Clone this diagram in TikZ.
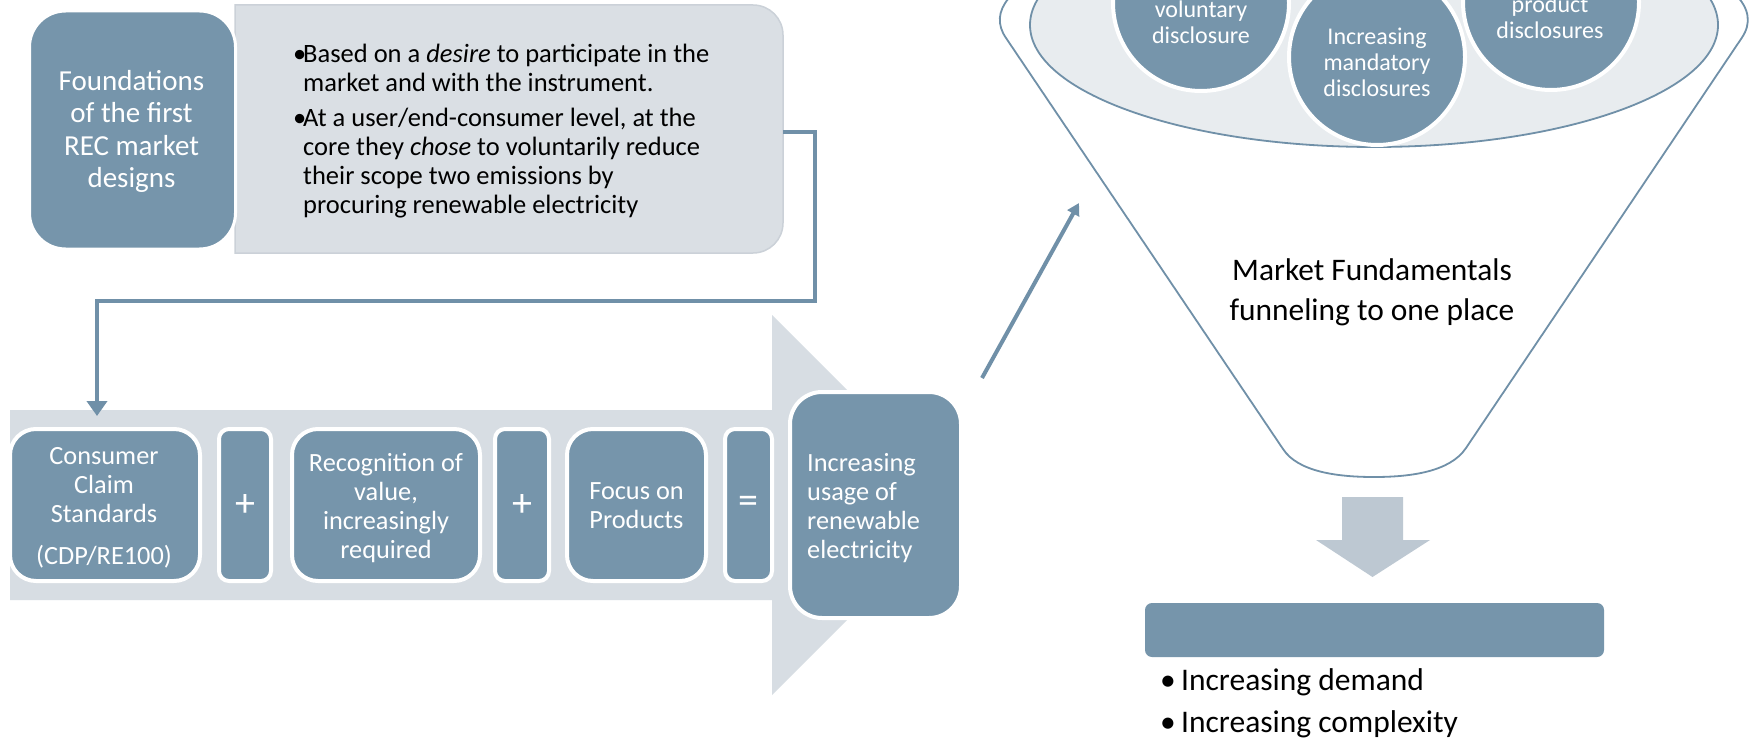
\documentclass[tikz,border=0pt]{standalone}
\usepackage{fontspec}
\setmainfont{Carlito}
\usetikzlibrary{arrows.meta,calc}
\definecolor{dkb}{HTML}{7695AB}
\definecolor{lgt}{HTML}{D7DDE3}
\definecolor{lgtbox}{HTML}{DADFE4}
\definecolor{lgtedge}{HTML}{CBD1D8}
\definecolor{rim}{HTML}{E8ECEF}
\definecolor{lnc}{HTML}{7090A8}
\definecolor{darr}{HTML}{BDC8D2}
\begin{document}
\begin{tikzpicture}[x=1pt,y=1pt,
  dkbox/.style={draw=white, line width=4pt, fill=dkb, text=white, inner sep=0pt, align=center},
  boxtext/.style={text=white, inner sep=0pt, align=center, font=\fontsize{26.3}{29}\selectfont},
  opfont/.style={font=\fontsize{40}{40}\selectfont},
  disc/.style={draw=white, line width=4pt, fill=dkb},
  disctext/.style={text=white, align=center, inner sep=0pt, font=\fontsize{24}{26}\selectfont},
  conn/.style={draw=lnc, line width=4pt, -{Triangle[width=20pt,length=15pt]}},
  diag/.style={draw=lnc, line width=4pt, -{Triangle[width=13pt,length=12pt]}},
  funnel/.style={draw=lnc, line width=1.8pt, fill=white, line join=round},
  blacktext/.style={text=black, inner sep=0pt, font=\fontsize{31.4}{40}\selectfont}
]
\useasboundingbox (0,0) rectangle (1750,-741);
\fill[white] (0,0) rectangle (1750,-741);

% top light box with bullets
\filldraw[fill=lgtbox, draw=lgtedge, line width=1.5pt]
  (235,-5) -- (753,-5) arc[start angle=90,end angle=0,radius=30pt]
  -- (783,-223) arc[start angle=0,end angle=-90,radius=30pt] -- (235,-253) -- cycle;
\coordinate (lbxR) at (783,-132);
\node[anchor=north west, inner sep=0pt, align=left, text=black,
      font=\fontsize{26.5}{29}\selectfont] (bul) at (293,-42)
  {\strut\makebox[10pt][l]{•}Based on a \textit{desire} to participate in the\\
   \strut\hspace*{10pt}market and with the instrument.\\[6pt]
   \strut\makebox[10pt][l]{•}At a user/end-consumer level, at the\\
   \strut\hspace*{10pt}core they \textit{chose} to voluntarily reduce\\
   \strut\hspace*{10pt}their scope two emissions by\\
   \strut\hspace*{10pt}procuring renewable electricity};

% Foundations box
\node[dkbox, line width=3pt, minimum width=206pt, minimum height=238pt, rounded corners=36pt] (found) at (132.5,-130) {};
\node[boxtext, font=\fontsize{29}{32.5}\selectfont] (foundtext) at (131.5,-132.5)
  {\strut Foundations\\\strut of the first\\\strut REC market\\\strut designs};

% big light arrow
\fill[lgt] (10,-410) -- (772,-410) -- (772,-315) -- (962,-505) -- (772,-695)
  -- (772,-600) -- (10,-600) -- cycle;

% connector
\coordinate (cr1) at (815,-132);
\coordinate (cr2) at (815,-301);
\coordinate (cr3) at (97,-301);
\coordinate (consin) at (97,-416);
\draw[conn] (lbxR) -- (cr1) -- (cr2) -- (cr3) -- (consin);

% boxes in arrow
\node[dkbox, minimum width=190pt, minimum height=152pt, rounded corners=26pt] (cons) at (105,-505) {};
\node[boxtext] (constext) at (104,-509)
  {\strut Consumer\\\strut Claim\\\strut Standards\\[13pt]\strut (CDP/RE100)};
\node[dkbox, opfont, minimum width=52pt, minimum height=152pt, rounded corners=10pt] (p1) at (245,-505) {+};
\node[dkbox, minimum width=188pt, minimum height=152pt, rounded corners=26pt] (recog) at (386,-505) {};
\node[boxtext] (recogtext) at (386,-509)
  {\strut Recognition of\\\strut value,\\\strut increasingly\\\strut required};
\node[dkbox, opfont, minimum width=54pt, minimum height=152pt, rounded corners=10pt] (p2) at (522,-505) {+};
\node[dkbox, minimum width=139pt, minimum height=152pt, rounded corners=26pt] (focus) at (636.5,-505) {};
\node[boxtext] (focustext) at (636.5,-508.5) {\strut Focus on\\\strut Products};
\node[dkbox, opfont, minimum width=47pt, minimum height=152pt, rounded corners=10pt] (eq) at (748.5,-505) {=};
\node[dkbox, minimum width=171pt, minimum height=226pt, rounded corners=32pt] (incr) at (875.5,-505) {};
\node[boxtext, anchor=west, align=left] (incrtext) at (807,-509)
  {\strut Increasing\\\strut usage of\\\strut renewable\\\strut electricity};

% diagonal arrow
\coordinate (dgA) at (982,-378);
\coordinate (dgB) at (1079,-203);
\draw[diag] (dgA) -- (dgB);

% funnel
\draw[funnel] (1006,-38) arc[start angle=190.4, end angle=-10.4, x radius=374, y radius=100]
  -- (1466,-448) .. controls (1450,-472) and (1410,-477) .. (1374,-477)
  .. controls (1338,-477) and (1298,-472) .. (1283,-449) -- cycle;
\filldraw[fill=rim, draw=lnc, line width=1.8pt] (1374,-25) ellipse [x radius=344, y radius=122];

% discs
\filldraw[disc] (1201,-3) circle [radius=88];
\filldraw[disc] (1551,-2) circle [radius=88];
\filldraw[disc] (1377,-57) circle [radius=88];
\node[disctext] (vol) at (1201,-25.5) {\strut voluntary\\\strut disclosure};
\node[disctext] (prod) at (1550,-20.5) {\strut product\\\strut disclosures};
\node[disctext] (mand) at (1377,-65) {\strut Increasing\\\strut mandatory\\\strut disclosures};

\node[blacktext, align=center] (mkt) at (1372,-292.5) {\strut Market Fundamentals\\\strut funneling to one place};

% down arrow
\fill[darr] (1342,-497) -- (1403,-497) -- (1403,-540) -- (1430,-540) -- (1372.5,-577)
  -- (1316,-540) -- (1342,-540) -- cycle;

% bottom bar
\node[fill=dkb, rounded corners=7pt, minimum width=459pt, minimum height=54pt, inner sep=0pt] (bar) at (1374.5,-630) {};

\node[blacktext, anchor=west, align=left, font=\fontsize{31.5}{42.5}\selectfont] (res) at (1160,-703)
  {\strut\makebox[21pt][l]{•}Increasing demand\\\strut\makebox[21pt][l]{•}Increasing complexity};
\end{tikzpicture}
\end{document}
